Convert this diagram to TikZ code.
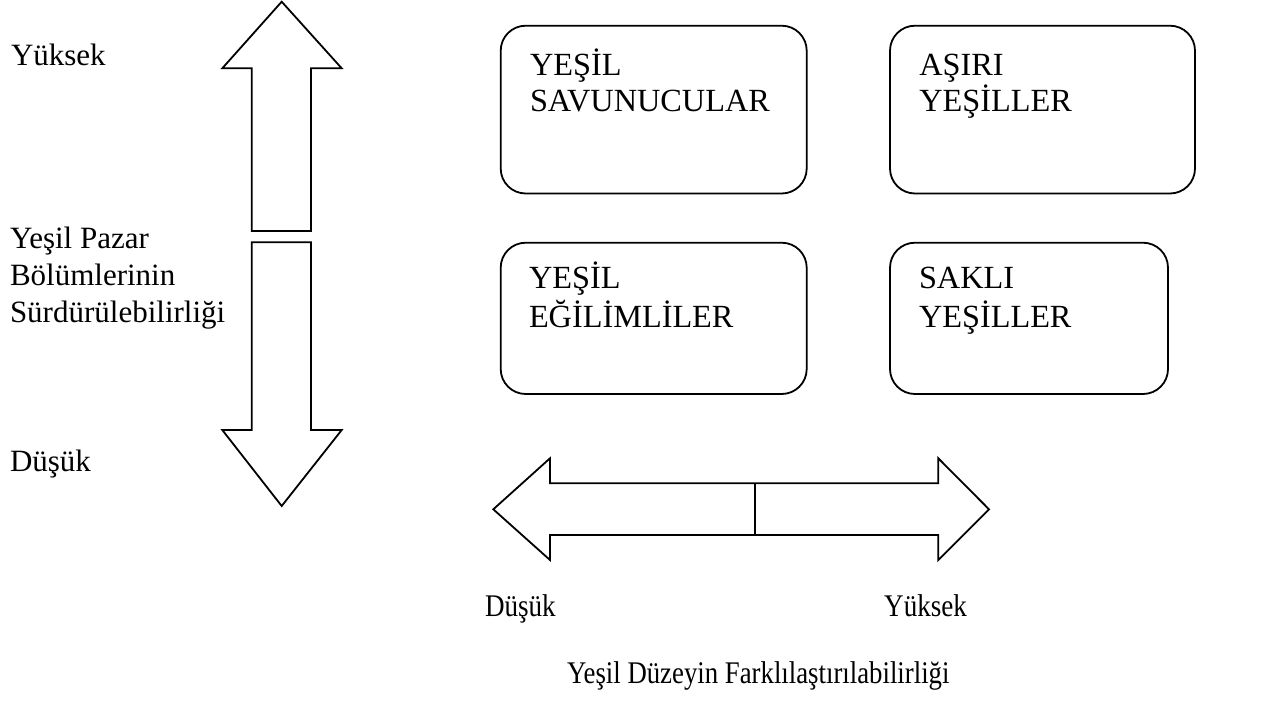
\documentclass[tikz,border=0pt]{standalone}
\usepackage{fontspec}
\usepackage{graphicx}
\setmainfont{Liberation Serif}
\begin{document}
\begin{tikzpicture}[x=1pt,y=-1pt,
  every node/.style={inner sep=0pt, outer sep=0pt},
  outline/.style={draw=black, line width=1.8pt, line join=miter},
  qbox/.style={draw=black, line width=1.8pt, rounded corners=25pt, fill=white},
  boxtext/.style={anchor=base west, font=\fontsize{32.3}{37}\selectfont},
  lbl/.style={anchor=base west, font=\fontsize{31}{37}\selectfont},
  narrow/.style={anchor=base west, font=\fontsize{31.5}{37}\selectfont}
]
\useasboundingbox (0,0) rectangle (1264,704);

% vertical arrows
\draw[outline] (281.7,1.7) -- (341.7,68.3) -- (311,68.3) -- (311,231) -- (251.7,231) -- (251.7,68.3) -- (222.3,68.3) -- cycle;
\draw[outline] (251.7,242.3) -- (311,242.3) -- (311,430) -- (341.7,430) -- (281.7,506) -- (222.3,430) -- (251.7,430) -- cycle;

% horizontal double arrow
\draw[outline] (493.3,509.3) -- (550,458.3) -- (550,483.3) -- (938.3,483.3) -- (938.3,458.3) -- (989,509.3) -- (938.3,560) -- (938.3,535) -- (550,535) -- (550,560) -- cycle;
\coordinate (divtop) at (754.7,483.3);
\coordinate (divbot) at (754.7,535);
\draw[outline] (divtop) -- (divbot);

% boxes
\draw[qbox] (500.7,25.7) rectangle (806.7,193.5);
\draw[qbox] (890,25.7) rectangle (1195,193.5);
\draw[qbox] (500.7,242.7) rectangle (806.7,394);
\draw[qbox] (890,242.7) rectangle (1168,394);

% box texts
\node[boxtext] (tl1) at (530,75) {YEŞİL};
\node[boxtext] (tl2) at (530,111.7) {SAVUNUCULAR};
\node[boxtext] (tr1) at (919.3,75) {AŞIRI};
\node[boxtext] (tr2) at (919.3,111.7) {YEŞİLLER};
\node[boxtext] (bl1) at (529,288.3) {YEŞİL};
\node[boxtext] (bl2) at (529,327.3) {EĞİLİMLİLER};
\node[boxtext] (br1) at (919,288.3) {SAKLI};
\node[boxtext] (br2) at (919,327.3) {YEŞİLLER};

% left labels
\node[lbl] (yhigh) at (11,65) {Yüksek};
\node[lbl] (ya1) at (10,248.3) {Yeşil Pazar};
\node[lbl] (ya2) at (10,285.3) {Bölümlerinin};
\node[lbl] (ya3) at (10,322.3) {Sürdürülebilirliği};
\node[lbl] (ylow) at (10,471.7) {Düşük};

% bottom labels
\node[narrow] (xlow) at (485,616.7) {\scalebox{0.86}[1]{Düşük}};
\node[narrow, anchor=base east] (xhigh) at (967,616.7) {\scalebox{0.86}[1]{Yüksek}};
\node[narrow] (xtitle) at (567,683) {\scalebox{0.85}[1]{Yeşil Düzeyin Farklılaştırılabilirliği}};
\end{tikzpicture}
\end{document}
